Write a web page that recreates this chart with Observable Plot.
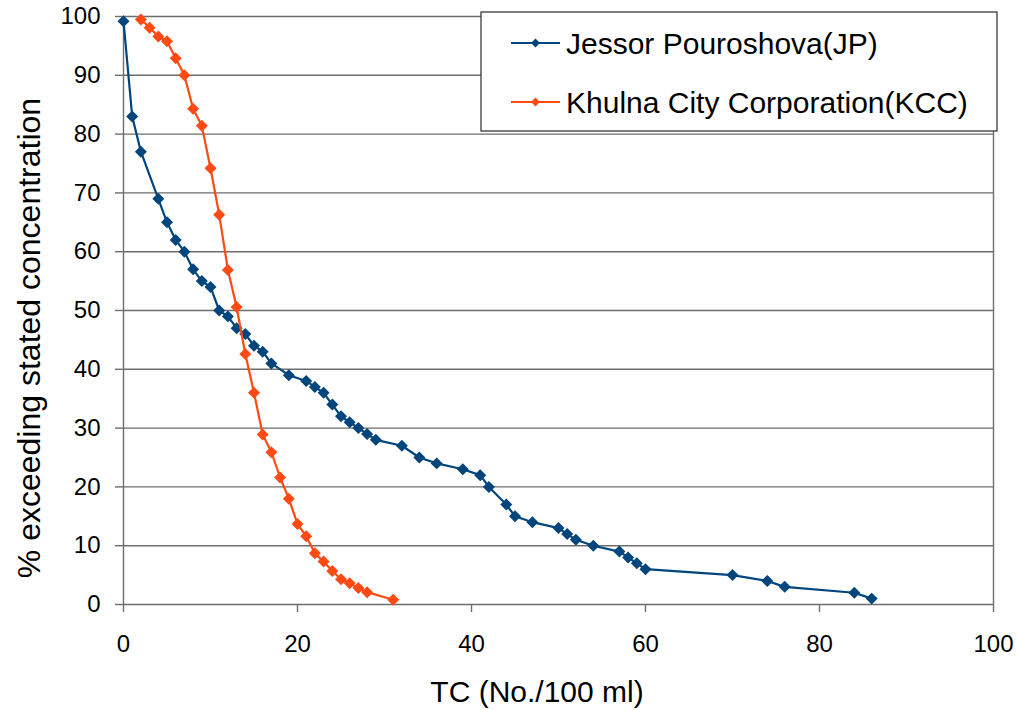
<!DOCTYPE html>
<html>
<head>
<meta charset="utf-8">
<script src="https://cdn.jsdelivr.net/npm/d3@7"></script>
<script src="https://cdn.jsdelivr.net/npm/@observablehq/plot@0.6"></script>
<style>
  html, body { margin: 0; padding: 0; background: #fff; }
  svg { display: block; }
</style>
</head>
<body>
<div id="chart"></div>
<script>
// --- Data ---
const seriesNames = ["Jessor Pouroshova(JP)", "Khulna City Corporation(KCC)"];
const seriesColors = ["#00457C", "#FF4A14"];

const jpTC = [0, 1, 2, 4, 5, 6, 7, 8, 9, 10, 11, 12, 13, 14, 15, 16, 17, 19, 21, 22, 23, 24, 25, 26, 27, 28, 29, 32, 34, 36, 39, 41, 42, 44, 45, 47, 50, 51, 52, 54, 57, 58, 59, 60, 70, 74, 76, 84, 86];
const jpPct = [99.2, 83, 77, 69, 65, 62, 60, 57, 55, 54, 50, 49, 47, 46, 44, 43, 41, 39, 38, 37, 36, 34, 32, 31, 30, 29, 28, 27, 25, 24, 23, 22, 20, 17, 15, 14, 13, 12, 11, 10, 9, 8, 7, 6, 5, 4, 3, 2, 1];

const kccTC = [2, 3, 4, 5, 6, 7, 8, 9, 10, 11, 12, 13, 14, 15, 16, 17, 18, 19, 20, 21, 22, 23, 24, 25, 26, 27, 28, 31];
const kccPct = [99.5, 98.1, 96.6, 95.8, 92.9, 90, 84.3, 81.4, 74.2, 66.3, 56.9, 50.6, 42.6, 36, 28.9, 25.9, 21.6, 18, 13.7, 11.6, 8.7, 7.3, 5.7, 4.3, 3.6, 2.8, 2.1, 0.8];

const xTicks = [0, 20, 40, 60, 80, 100];
const yTicks = [0, 10, 20, 30, 40, 50, 60, 70, 80, 90, 100];
const xTitle = "TC (No./100 ml)";
const yTitle = "% exceeding stated concentration";

// --- Build tables ---
const jp = jpTC.map((x, i) => ({x, y: jpPct[i], s: seriesNames[0]}));
const kcc = kccTC.map((x, i) => ({x, y: kccPct[i], s: seriesNames[1]}));

const font = "'Liberation Sans', Arial, sans-serif";
const gridColor = "#6e6e6e";

const chart = Plot.plot({
  width: 1018,
  height: 710,
  marginLeft: 123,
  marginRight: 25,
  marginTop: 16,
  marginBottom: 106,
  style: {fontFamily: font, background: "#fff", color: "#000"},
  x: {domain: [0, 100]},
  y: {domain: [0, 100]},
  marks: [
    Plot.gridY(yTicks, {stroke: gridColor, strokeOpacity: 1, strokeWidth: 1.4}),
    Plot.ruleX([0], {stroke: gridColor, strokeWidth: 1.4}),
    Plot.ruleX([100], {stroke: gridColor, strokeWidth: 1.4}),
    Plot.axisY(yTicks, {tickSize: 8, tickPadding: 15, fontSize: 24, label: null, stroke: gridColor, strokeWidth: 1.4, fill: "#000"}),
    Plot.axisX(xTicks, {tickSize: 8, tickPadding: 22, fontSize: 24, label: null, stroke: gridColor, strokeWidth: 1.4, fill: "#000"}),
    Plot.line(jp, {x: "x", y: "y", stroke: seriesColors[0], strokeWidth: 2.2}),
    Plot.dot(jp, {x: "x", y: "y", fill: seriesColors[0], symbol: "diamond2", r: 5.4}),
    Plot.line(kcc, {x: "x", y: "y", stroke: seriesColors[1], strokeWidth: 2.2}),
    Plot.dot(kcc, {x: "x", y: "y", fill: seriesColors[1], symbol: "diamond2", r: 5.4})
  ]
});

document.getElementById("chart").appendChild(chart);

// --- Axis titles and legend (layout elements) ---
const svg = d3.select(chart);

svg.append("text")
  .attr("x", 537).attr("y", 702)
  .attr("text-anchor", "middle")
  .attr("font-family", font).attr("font-size", 30).attr("fill", "#000")
  .text(xTitle);

svg.append("text")
  .attr("transform", "translate(40,338) rotate(-90)")
  .attr("text-anchor", "middle")
  .attr("font-family", font).attr("font-size", 32).attr("fill", "#000")
  .text(yTitle);

const lg = svg.append("g");
lg.append("rect")
  .attr("x", 481).attr("y", 12).attr("width", 516).attr("height", 119)
  .attr("fill", "#fff").attr("stroke", "#3a3a3a").attr("stroke-width", 1.3);

const legendRows = [43, 102];
const diamond = d3.symbol(d3.symbolDiamond2, 50);
seriesNames.forEach((name, i) => {
  const cy = legendRows[i];
  lg.append("line").attr("x1", 511).attr("x2", 560).attr("y1", cy).attr("y2", cy)
    .attr("stroke", seriesColors[i]).attr("stroke-width", 2);
  lg.append("path").attr("d", diamond()).attr("transform", `translate(535.5,${cy})`)
    .attr("fill", seriesColors[i]);
  lg.append("text").attr("x", 566).attr("y", cy + 10.5)
    .attr("text-anchor", "start")
    .attr("font-family", font).attr("font-size", 30).attr("fill", "#000")
    .text(name);
});
</script>
</body>
</html>
